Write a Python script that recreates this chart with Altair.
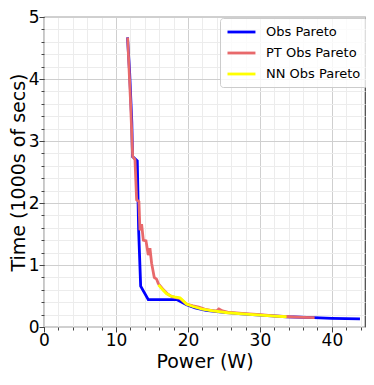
import altair as alt
import pandas as pd

series_names = ["Obs Pareto", "PT Obs Pareto", "NN Obs Pareto"]
series_colors = ["#0000ff", "#e8696b", "#ffff00"]

obs_x = [11.6, 11.9, 12.2, 12.3, 12.96, 13.15, 13.43, 14.49, 18.5, 19.8, 21.0, 22.5, 25.0, 27.5, 30.0, 33.7, 37.5, 40.0, 43.9]
obs_y = [4.67, 4.1, 3.3, 2.75, 2.68, 1.56, 0.66, 0.44, 0.44, 0.36, 0.31, 0.27, 0.235, 0.21, 0.19, 0.165, 0.15, 0.14, 0.13]

pt_x = [11.62, 12.0, 12.32, 12.64, 12.87, 13.19, 13.33, 13.56, 13.8, 14.17, 14.49, 14.72, 14.95, 15.32, 15.65, 15.88,
        16.6, 17.2, 17.8, 18.5, 18.9, 19.3, 19.8, 20.7, 21.5, 22.3, 23.5, 24.0, 24.3, 24.8, 25.5, 27.5, 30.0, 32.0, 34.0, 36.0, 37.6]
pt_y = [4.67, 3.7, 2.75, 2.7, 2.05, 2.02, 1.56, 1.66, 1.4, 1.39, 1.16, 1.27, 1.03, 0.8, 0.77, 0.7,
        0.6, 0.53, 0.49, 0.47, 0.46, 0.42, 0.37, 0.34, 0.32, 0.29, 0.26, 0.26, 0.29, 0.26, 0.24, 0.22, 0.2, 0.18, 0.165, 0.155, 0.15]

nn_x = [15.9, 16.5, 17.0, 17.6, 18.3, 18.9, 19.2, 19.8, 20.7, 22.0, 23.5, 25.5, 27.5, 30.0, 32.0, 33.7]
nn_y = [0.68, 0.6, 0.54, 0.5, 0.48, 0.47, 0.44, 0.37, 0.33, 0.29, 0.26, 0.23, 0.21, 0.19, 0.175, 0.165]

x_major = [0, 10, 20, 30, 40]
x_minor = list(range(0, 45, 2))
y_major = [0, 1, 2, 3, 4, 5]
y_minor = [round(i * 0.2, 1) for i in range(26)]

frames = []
for name, xs, ys in [(series_names[0], obs_x, obs_y), (series_names[1], pt_x, pt_y), (series_names[2], nn_x, nn_y)]:
    frames.append(pd.DataFrame({"series": name, "x": xs, "y": ys, "i": range(len(xs))}))
df = pd.concat(frames, ignore_index=True)

font = "DejaVu Sans"
xscale = alt.Scale(domain=[0, 44.6], nice=False, zero=False)
yscale = alt.Scale(domain=[0, 5], nice=False, zero=False)
color = alt.Color("series:N", scale=alt.Scale(domain=series_names, range=series_colors),
                  legend=alt.Legend(title=None, orient="none", legendX=176, legendY=1,
                                    symbolType="M-1,0H3.3", symbolSize=169, symbolStrokeWidth=2.8,
                                    labelFontSize=13, labelFont=font, labelColor="black",
                                    padding=6, rowPadding=6, labelOffset=24,
                                    strokeColor="#cccccc", fillColor="rgba(255,255,255,0.8)",
                                    cornerRadius=3, offset=0))

minor = alt.Chart(df).mark_line(opacity=0).encode(
    x=alt.X("x:Q", scale=xscale, axis=alt.Axis(values=x_minor, grid=True, gridColor="#ececec", labels=False,
                                              domain=False, tickSize=3, tickColor="#444", title=None, orient="bottom")),
    y=alt.Y("y:Q", scale=yscale, axis=alt.Axis(values=y_minor, grid=True, gridColor="#ececec", labels=False,
                                              domain=False, tickSize=3, tickColor="#444", title=None, orient="left")),
)

def layer_for(name):
    return alt.Chart(df).transform_filter(alt.datum.series == name).mark_line(strokeWidth=2.8).encode(
        x=alt.X("x:Q", scale=xscale, axis=alt.Axis(values=x_major, grid=True, gridColor="#cfcfcf", format="d",
                                                  tickSize=5, tickColor="#444", domain=False, labelFlush=False,
                                                  labelFontSize=17, labelFont=font, labelColor="black", labelPadding=0,
                                                  title="Power (W)", titleFontSize=19, titleFont=font,
                                                  titleFontWeight="normal", titleColor="black", titlePadding=4,
                                                  orient="bottom")),
        y=alt.Y("y:Q", scale=yscale, axis=alt.Axis(values=y_major, grid=True, gridColor="#cfcfcf", format="d",
                                                  tickSize=5, tickColor="#444", domain=False, labelFlush=False,
                                                  labelFontSize=17, labelFont=font, labelColor="black", labelPadding=0,
                                                  title="Time (1000s of secs)", titleFontSize=19, titleFont=font,
                                                  titleFontWeight="normal", titleColor="black", titlePadding=0,
                                                  orient="left")),
        color=color,
        order=alt.Order("i:Q"),
    )

main = alt.layer(*[layer_for(n) for n in series_names])

chart = alt.layer(minor, main).resolve_axis(x="independent", y="independent").properties(
    width=321, height=310,
    autosize=alt.AutoSizeParams(type="none"),
    padding={"left": 36, "top": 9, "right": 1, "bottom": 46},
).configure_view(stroke="#444", strokeWidth=1.2)

chart.save("out.html", embed_options={"renderer": "svg", "actions": False})
